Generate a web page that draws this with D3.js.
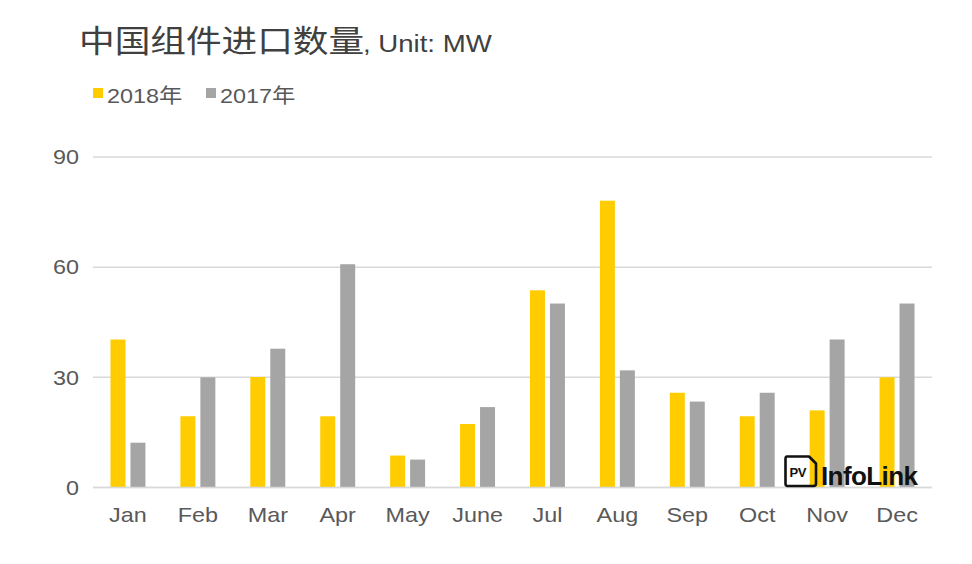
<!DOCTYPE html>
<html>
<head>
<meta charset="utf-8">
<script src="https://cdn.jsdelivr.net/npm/d3@7/dist/d3.min.js"></script>
<style>
  html, body { margin: 0; padding: 0; background: #ffffff; }
  svg { display: block; }
  text { font-family: "Liberation Sans", Arial, "Noto Sans CJK SC", sans-serif; }
</style>
</head>
<body>
<svg id="chart" width="972" height="564"></svg>
<script>
const months = ["Jan","Feb","Mar","Apr","May","June","Jul","Aug","Sep","Oct","Nov","Dec"];
const seriesNames = ["2018年","2017年"];
const values2018 = [40.3, 19.4, 30.1, 19.4, 8.7, 17.3, 53.7, 78.1, 25.8, 19.4, 21.0, 30.0];
const values2017 = [12.2, 30.0, 37.8, 60.8, 7.6, 21.9, 50.1, 31.9, 23.4, 25.8, 40.3, 50.1];
const yTicks = [0, 30, 60, 90];
const colors = ["#FFCC00", "#A5A5A5"];

const svg = d3.select("#chart");
const plot = { left: 93, right: 932, top: 157, bottom: 487.5 };
const SX = 1.17; // horizontal stretch of text in the reference

const x0 = d3.scaleBand().domain(months).range([plot.left, plot.right]).paddingInner(0).paddingOuter(0);
const groupW = x0.bandwidth() * 0.5;
const x1 = d3.scaleBand().domain(seriesNames).range([0, groupW]).paddingInner(0.25).paddingOuter(0);
const y = d3.scaleLinear().domain([0, 90]).range([plot.bottom, plot.top]);

// gridlines
svg.append("g").selectAll("line").data(yTicks).join("line")
  .attr("x1", plot.left).attr("x2", plot.right)
  .attr("y1", d => y(d)).attr("y2", d => y(d))
  .attr("stroke", "#D9D9D9").attr("stroke-width", 1.5);

// y labels
svg.append("g").selectAll("text").data(yTicks).join("text")
  .attr("transform", d => `translate(79,${y(d)}) scale(${SX},1)`).attr("dy", "0.36em")
  .attr("text-anchor", "end").attr("font-size", 20).attr("fill", "#595959")
  .text(d => d);

// bars
const data = months.map((m, i) => ({ month: m, vals: [values2018[i], values2017[i]] }));
const groups = svg.append("g").selectAll("g").data(data).join("g")
  .attr("transform", d => `translate(${x0(d.month) + (x0.bandwidth() - groupW) / 2},0)`);
groups.selectAll("rect").data(d => d.vals.map((v, j) => ({ name: seriesNames[j], v, j })))
  .join("rect")
  .attr("x", d => x1(d.name)).attr("width", x1.bandwidth())
  .attr("y", d => y(d.v)).attr("height", d => y(0) - y(d.v))
  .attr("fill", d => colors[d.j]);

// baseline
svg.append("line").attr("x1", plot.left).attr("x2", plot.right)
  .attr("y1", y(0)).attr("y2", y(0)).attr("stroke", "#D9D9D9").attr("stroke-width", 1.5);

// x labels
svg.append("g").selectAll("text").data(months).join("text")
  .attr("transform", d => `translate(${x0(d) + x0.bandwidth() / 2},522) scale(${SX},1)`)
  .attr("text-anchor", "middle").attr("font-size", 20).attr("fill", "#595959")
  .text(d => d);

// title
const title = svg.append("text").attr("transform", `translate(79,52) scale(1.15,1)`).attr("fill", "#404040");
title.append("tspan").attr("font-family", "'Noto Sans CJK SC', sans-serif").attr("font-size", 31)
  .text("中国组件进口数量");
title.append("tspan").attr("font-size", 24).attr("dx", -1).text(", Unit: MW");

// legend
const legend = svg.append("g");
const legX = [93, 206];
seriesNames.forEach((n, i) => {
  legend.append("rect").attr("x", legX[i]).attr("y", 88).attr("width", 10).attr("height", 10).attr("fill", colors[i]);
  const t = legend.append("text").attr("transform", `translate(${legX[i] + 14},103) scale(${SX},1)`)
    .attr("fill", "#595959").attr("font-size", 20);
  t.append("tspan").text(n.replace("年", ""));
  t.append("tspan").attr("font-family", "'Noto Sans CJK SC', sans-serif").text("年");
});

// logo
const logo = svg.append("g").attr("transform", "translate(784,455)");
logo.append("path")
  .attr("d", "M3,1.5 H25 L32,8.5 V28.5 Q32,31 29.5,31 H3.5 Q1.5,31 1.5,28.5 V4 Q1.5,1.5 3,1.5 Z")
  .attr("fill", "none").attr("stroke", "#111").attr("stroke-width", 2.6).attr("stroke-linejoin", "round");
logo.append("text").attr("x", 5.5).attr("y", 22).attr("font-size", 13).attr("font-weight", "bold")
  .attr("fill", "#111").attr("font-family", "'DejaVu Sans', sans-serif").attr("letter-spacing", -0.5).text("PV");
logo.append("text").attr("x", 37).attr("y", 30).attr("font-size", 26).attr("font-weight", "bold")
  .attr("fill", "#111").attr("font-family", "'DejaVu Sans', sans-serif").attr("letter-spacing", -0.6).text("InfoLink");
</script>
</body>
</html>
